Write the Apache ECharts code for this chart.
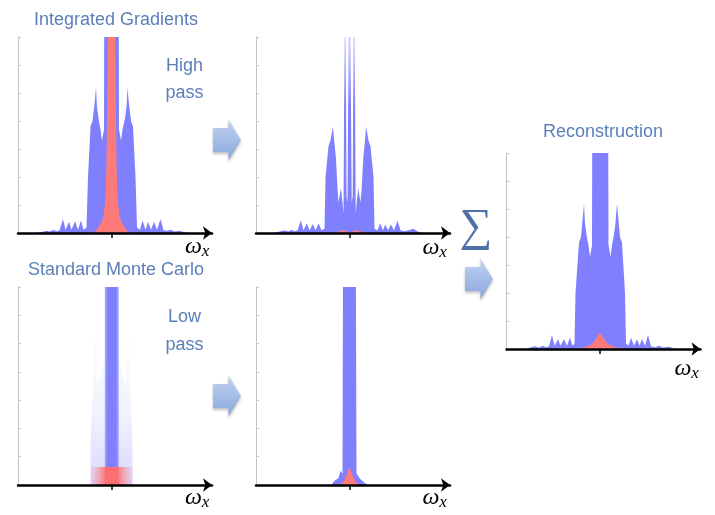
<!DOCTYPE html>
<html>
<head>
<meta charset="utf-8">
<script src="https://cdn.jsdelivr.net/npm/echarts@6/dist/echarts.min.js"></script>
<style>
html,body{margin:0;padding:0;background:#fff;}
#chart{width:715px;height:515px;}
</style>
</head>
<body>
<div id="chart"></div>
<script>
// ---------- DATA (x: frequency offset from centre, y: amplitude in tick units) ----------
var titles = ['Integrated Gradients', 'Standard Monte Carlo', 'Reconstruction'];
var filterLabels = [['High', 'pass'], ['Low', 'pass']];
var axisName = ['ω', 'x'];
var sumSymbol = '∑';
var centreTick = [0];

// Integrated Gradients spectrum
var igBlue = [[-7.6,0],[-7.0,0.04],[-6.5,0.08],[-6.2,0.05],[-5.8,0.12],[-5.5,0.06],[-5.2,0.1],[-4.85,0.5],[-4.6,0.12],[-4.25,0.4],[-4.0,0.12],[-3.65,0.42],[-3.35,0.12],[-3.05,0.45],[-2.8,0.12],[-2.5,0.2],[-2.35,2.0],[-2.1,3.8],[-1.9,4.0],[-1.7,4.6],[-1.55,5.2],[-1.45,4.5],[-1.3,4.1],[-1.1,3.7],[-0.95,3.3],[-0.75,3.7],[-0.7,12],[0.7,12],[0.75,3.7],[0.95,3.3],[1.1,3.7],[1.35,4.1],[1.5,4.5],[1.6,5.2],[1.75,4.6],[1.95,4.0],[2.15,3.8],[2.4,2.0],[2.55,0.2],[2.85,0.12],[3.1,0.45],[3.4,0.12],[3.65,0.4],[3.95,0.12],[4.25,0.4],[4.55,0.12],[4.9,0.5],[5.2,0.1],[5.6,0.08],[5.9,0.12],[6.3,0.05],[6.8,0.08],[7.3,0.03],[7.8,0]];
var igRed = [[-2.2,0],[-1.8,0.03],[-1.5,0.1],[-1.2,0.28],[-1.0,0.4],[-0.8,0.6],[-0.6,1.2],[-0.5,2.5],[-0.4,5.5],[-0.3,9],[0,30],[0.3,9],[0.4,5.5],[0.5,2.5],[0.6,1.2],[0.8,0.6],[1.0,0.4],[1.2,0.28],[1.5,0.1],[1.8,0.03],[2.2,0]];

// High pass
var hpBlue = [[-7.6,0],[-7.0,0.05],[-6.5,0.1],[-6.1,0.05],[-5.8,0.12],[-5.5,0.06],[-5.2,0.1],[-4.86,0.45],[-4.6,0.1],[-4.26,0.35],[-4.0,0.1],[-3.66,0.32],[-3.4,0.1],[-3.1,0.35],[-2.8,0.1],[-2.5,0.15],[-2.4,2.0],[-2.1,3.1],[-1.9,3.3],[-1.66,3.8],[-1.5,3.2],[-1.36,2.7],[-1.2,1.6],[-1.1,1.1],[-0.86,1.6],[-0.7,1.1],[-0.6,0.7],[-0.43,12],[-0.3,1.3],[-0.2,1.1],[0,12],[0.22,1.1],[0.32,1.3],[0.46,12],[0.62,0.7],[0.72,1.1],[0.87,1.6],[1.1,1.1],[1.22,1.6],[1.38,2.7],[1.52,3.2],[1.66,3.8],[1.9,3.3],[2.1,3.1],[2.4,2.0],[2.5,0.15],[2.8,0.1],[3.07,0.35],[3.35,0.1],[3.57,0.3],[3.85,0.1],[4.14,0.3],[4.45,0.1],[4.8,0.45],[5.1,0.1],[5.5,0.06],[5.9,0.1],[6.4,0.15],[6.8,0.05],[7.4,0]];
var hpRed = [[-1.6,0],[-1.2,0.04],[-0.9,0.08],[-0.6,0.1],[-0.35,0.06],[-0.15,0.02],[0,0],[0.15,0.02],[0.35,0.06],[0.6,0.1],[0.9,0.08],[1.2,0.04],[1.6,0]];

// Standard Monte Carlo (blurred)
var mcHalo = [[-2.1,0],[-2.1,1.5],[-1.85,3.5],[-1.65,5.8],[-1.45,3.5],[-1.0,4.0],[-0.7,4.5],[0.7,4.5],[1.0,4.0],[1.45,3.5],[1.65,5.8],[1.85,3.5],[2.1,1.5],[2.1,0]];
var mcBar = [[-0.67,12],[0.73,12]];
var mcRed = [[-2.2,0.64],[2.2,0.64]];

// Low pass
var lpBlue = [[-1.8,0],[-1.5,0.15],[-1.3,0.1],[-1.1,0.25],[-0.9,0.5],[-0.7,0.4],[-0.62,12],[0.6,12],[0.7,0.4],[0.9,0.45],[1.1,0.2],[1.3,0.15],[1.5,0.08],[1.8,0]];
var lpRed = [[-1.0,0],[-0.7,0.08],[-0.5,0.18],[-0.35,0.3],[-0.2,0.45],[-0.1,0.55],[0,0.63],[0.1,0.55],[0.2,0.45],[0.35,0.3],[0.5,0.18],[0.7,0.08],[1.0,0]];

// Reconstruction
var recBlue = [[-7.5,0],[-7.0,0.05],[-6.5,0.1],[-6.1,0.05],[-5.7,0.12],[-5.4,0.06],[-5.1,0.1],[-4.8,0.5],[-4.55,0.12],[-4.2,0.35],[-3.95,0.12],[-3.6,0.35],[-3.3,0.12],[-3.0,0.4],[-2.75,0.12],[-2.55,0.2],[-2.45,2.0],[-2.1,3.8],[-1.9,4.0],[-1.75,4.6],[-1.6,5.2],[-1.5,4.5],[-1.35,4.1],[-1.15,3.7],[-1.0,3.3],[-0.8,3.7],[-0.75,12],[0.8,12],[0.85,3.7],[1.05,3.3],[1.2,3.7],[1.4,4.1],[1.55,4.5],[1.7,5.2],[1.85,4.6],[2.0,4.0],[2.2,3.8],[2.5,2.0],[2.6,0.2],[2.85,0.12],[3.1,0.4],[3.4,0.12],[3.7,0.35],[3.95,0.12],[4.2,0.35],[4.5,0.12],[4.8,0.5],[5.1,0.1],[5.5,0.06],[5.9,0.12],[6.3,0.05],[6.9,0.08],[7.5,0]];
var recRed = [[-2.7,0],[-2.0,0.03],[-1.5,0.06],[-1.0,0.13],[-0.6,0.25],[-0.3,0.42],[0,0.6],[0.3,0.42],[0.6,0.25],[1.0,0.13],[1.5,0.06],[2.0,0.03],[2.7,0]];

// ---------- STYLE / LAYOUT ----------
var BLUE = '#8080ff', RED = '#ff7b7b', TXT = '#5b7fba';
var grids = [
  {left: 18,    top: 37,  width: 194, height: 196},  // IG
  {left: 256,   top: 37,  width: 194, height: 196},  // high pass
  {left: 18,    top: 287, width: 194, height: 198},  // MC
  {left: 256,   top: 287, width: 194, height: 198},  // low pass
  {left: 506.5, top: 153, width: 194, height: 196}   // reconstruction
];

var xAxes = [], yAxes = [];
grids.forEach(function (g, i) {
  xAxes.push({
    type: 'value', gridIndex: i, min: -9.35, max: 10.05, z: 5,
    axisLine: {show: true, onZero: false, lineStyle: {color: '#000', width: 2.5},
      symbol: ['none', 'arrow'], symbolSize: [10, 9]},
    axisTick: {show: true, customValues: centreTick, length: 5, lineStyle: {color: '#000', width: 1.5}},
    axisLabel: {show: false}, splitLine: {show: false}
  });
  yAxes.push({
    type: 'value', gridIndex: i, min: 0, max: 7, interval: 1, z: 1,
    axisLine: {show: true, onZero: false, lineStyle: {color: '#c4c4c4', width: 1}},
    axisTick: {show: true, inside: true, length: 3, lineStyle: {color: '#c4c4c4'}},
    axisLabel: {show: false}, splitLine: {show: false}
  });
});

function area(data, idx, fill, z) {
  return {
    type: 'line', xAxisIndex: idx, yAxisIndex: idx, data: data,
    showSymbol: false, symbol: 'none', silent: true, clip: true, z: z || 2,
    lineStyle: {width: 0, opacity: 0},
    areaStyle: {color: fill, opacity: 1}
  };
}

var haloFill = {type: 'linear', x: 0, y: 0, x2: 0, y2: 1, colorStops: [
  {offset: 0, color: 'rgba(128,128,255,0)'},
  {offset: 0.55, color: 'rgba(128,128,255,0.1)'},
  {offset: 1, color: 'rgba(128,128,255,0.3)'}]};
var mcRedFill = {type: 'linear', x: 0, y: 0, x2: 1, y2: 0, colorStops: [
  {offset: 0, color: 'rgba(255,123,123,0)'},
  {offset: 0.22, color: 'rgba(255,123,123,0.55)'},
  {offset: 0.38, color: 'rgba(255,110,110,1)'},
  {offset: 0.62, color: 'rgba(255,110,110,1)'},
  {offset: 0.78, color: 'rgba(255,123,123,0.55)'},
  {offset: 1, color: 'rgba(255,123,123,0)'}]};
var mcBarFill = {type: 'linear', x: 0, y: 0, x2: 1, y2: 0, colorStops: [
  {offset: 0, color: 'rgba(128,128,255,0.6)'},
  {offset: 0.2, color: 'rgba(128,128,255,1)'},
  {offset: 0.8, color: 'rgba(128,128,255,1)'},
  {offset: 1, color: 'rgba(128,128,255,0.6)'}]};
// high-pass spikes fade towards the top
var hpFill = {type: 'linear', x: 0, y: 0, x2: 0, y2: 1, colorStops: [
  {offset: 0, color: 'rgba(128,128,255,0.15)'},
  {offset: 0.42, color: 'rgba(128,128,255,0.35)'},
  {offset: 0.62, color: 'rgba(128,128,255,1)'},
  {offset: 1, color: 'rgba(128,128,255,1)'}]};

var series = [
  area(igBlue, 0, BLUE), area(igRed, 0, RED, 3),
  area(hpBlue, 1, hpFill), area(hpRed, 1, RED, 3),
  area(mcHalo, 2, haloFill), area(mcBar, 2, mcBarFill, 3), area(mcRed, 2, mcRedFill, 4),
  area(lpBlue, 3, BLUE), area(lpRed, 3, RED, 3),
  area(recBlue, 4, BLUE), area(recRed, 4, RED, 3)
];

// ---------- GRAPHIC (texts, arrows) ----------
function label(txt, x, y, size) {
  return {type: 'text', x: x, y: y, z: 20, silent: true,
    style: {text: txt, fill: TXT, font: (size || 18) + 'px "Liberation Sans", Arial, sans-serif',
      align: 'center', verticalAlign: 'middle'}};
}
function omega(x, y) {
  return [
    {type: 'text', x: x, y: y, z: 20, silent: true,
      style: {text: axisName[0], fill: '#000', font: 'italic 24px "Liberation Serif", serif', align: 'center', verticalAlign: 'middle'}},
    {type: 'text', x: x + 12, y: y + 5, z: 20, silent: true,
      style: {text: axisName[1], fill: '#000', font: 'italic 17px "Liberation Serif", serif', align: 'center', verticalAlign: 'middle'}}
  ];
}
var arrowFill = {type: 'linear', x: 0, y: 0, x2: 0, y2: 1, colorStops: [
  {offset: 0, color: '#c3d3f2'}, {offset: 1, color: '#88a6dc'}]};
function arrow(x0, cy) {
  return {type: 'polygon', z: 20, silent: true,
    shape: {points: [[x0, cy - 12], [x0 + 15.5, cy - 12], [x0 + 15.5, cy - 20.5], [x0 + 28, cy],
                     [x0 + 15.5, cy + 20.5], [x0 + 15.5, cy + 12], [x0, cy + 12]]},
    style: {fill: arrowFill, shadowBlur: 3, shadowColor: 'rgba(0,0,0,0.25)', shadowOffsetY: 2}};
}

var graphics = [
  label(titles[0], 116, 20),
  label(filterLabels[0][0], 184.5, 66),
  label(filterLabels[0][1], 184.5, 93),
  label(titles[1], 116, 270),
  label(filterLabels[1][0], 184.5, 317),
  label(filterLabels[1][1], 184.5, 345),
  label(titles[2], 603, 132),
  arrow(213, 140), arrow(213, 396), arrow(465, 279),
  {type: 'text', x: 476, y: 228, z: 20, silent: true,
    style: {text: sumSymbol, fill: '#4d71a8', font: '46px "Liberation Serif", serif', align: 'center', verticalAlign: 'middle'}}
].concat(omega(193.5, 247), omega(431, 248), omega(193.5, 498), omega(431, 497.5), omega(683, 368.5));

var chart = echarts.init(document.getElementById('chart'), null, {renderer: 'canvas'});
chart.setOption({
  animation: false,
  backgroundColor: '#fff',
  grid: grids,
  xAxis: xAxes,
  yAxis: yAxes,
  series: series,
  graphic: graphics
});
</script>
</body>
</html>
